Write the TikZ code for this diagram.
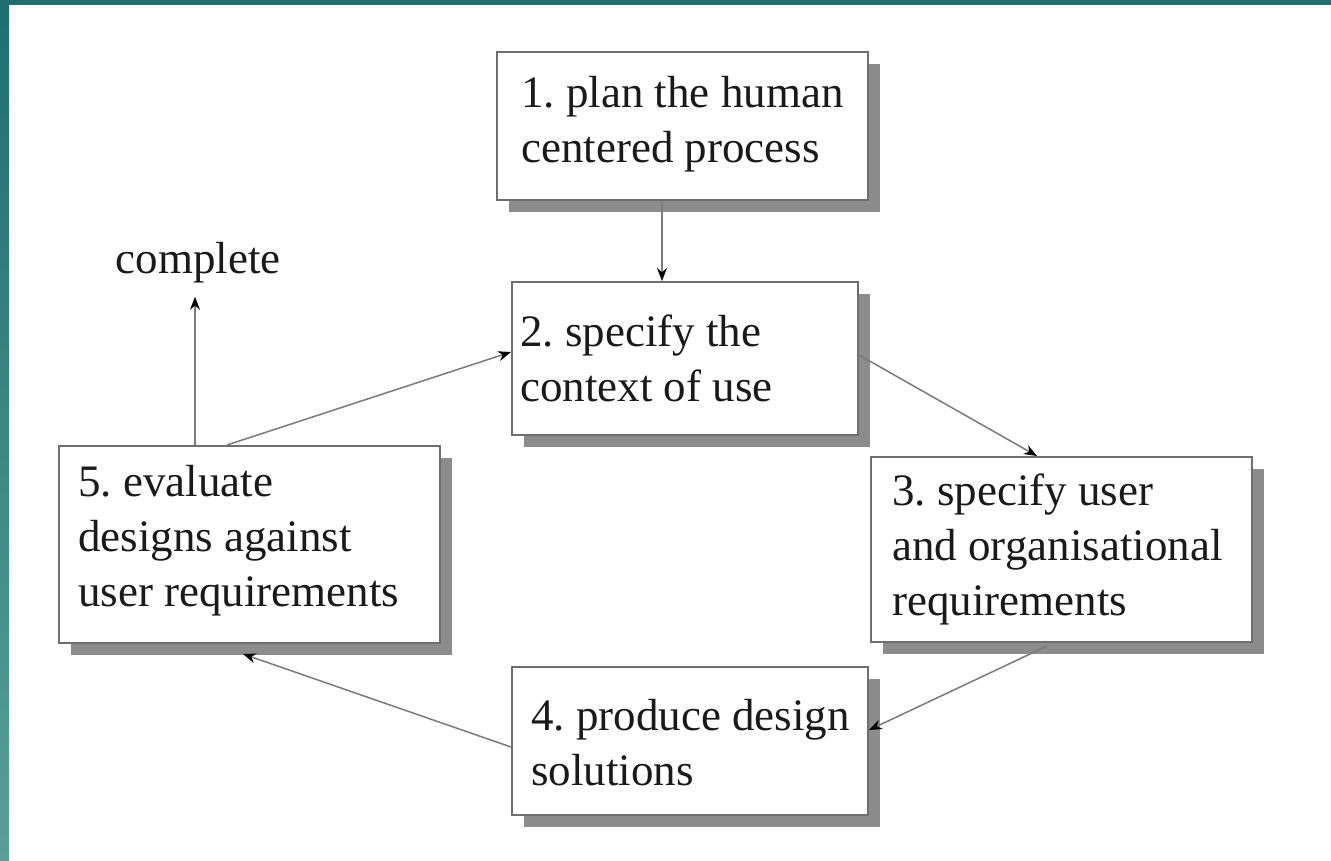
\documentclass[tikz,border=0pt]{standalone}
\usepackage{fontspec}
\setmainfont{Liberation Serif}
\usetikzlibrary{arrows.meta,shadows,calc}
\definecolor{tealtop}{HTML}{206E70}
\definecolor{tealbot}{HTML}{5A9E98}
\definecolor{boxline}{HTML}{6E6E6E}
\definecolor{shadowgray}{HTML}{8C8C8C}
\definecolor{linkgray}{HTML}{7A7A7A}
\definecolor{ink}{HTML}{1A1A1A}
\frenchspacing
\tikzset{
  stepbox/.style={draw=boxline, line width=2pt, fill=white, inner sep=0pt,
    drop shadow={shadow xshift=12pt, shadow yshift=-12pt, fill=shadowgray, opacity=1}},
  boxtext/.style={anchor=west, align=left, inner sep=0pt, text=ink,
    font=\fontsize{45}{55}\selectfont},
  arr/.style={draw=linkgray, line width=1.5pt,
    -{Stealth[length=13pt,width=10pt,color=black,fill=black]}}
}
\begin{document}
\begin{tikzpicture}[x=1pt,y=-1pt]
\useasboundingbox (0,0) rectangle (1331,861);
\fill[white] (0,0) rectangle (1331,861);
\fill[tealtop] (0,0) rectangle (1331,5);
\shade[top color=tealtop, bottom color=tealbot] (0,0) rectangle (9,861);

% boxes
\node[stepbox, minimum width=371pt, minimum height=148pt] (b1) at (682.5,126) {};
\node[stepbox, minimum width=346pt, minimum height=153pt] (b2) at (685,358.5) {};
\node[stepbox, minimum width=381pt, minimum height=185pt] (b3) at (1061.5,549.5) {};
\node[stepbox, minimum width=356pt, minimum height=148pt] (b4) at (690,741) {};
\node[stepbox, minimum width=381pt, minimum height=197pt] (b5) at (249.5,544.5) {};

% texts
\node[boxtext] (t1) at ([xshift=25pt,yshift=2pt]b1.west) {1. plan the human\\centered process};
\node[boxtext] (t2) at ([xshift=9pt]b2.west) {2. specify the\\context of use};
\node[boxtext] (t3) at ([xshift=22pt]b3.west) {3. specify user\\and organisational\\requirements};
\node[boxtext] (t4) at ([xshift=20pt,yshift=-2pt]b4.west) {4. produce design\\solutions};
\node[boxtext] (t5) at ([xshift=20pt,yshift=4pt]b5.west) {5. evaluate\\designs against\\user requirements};
\node[boxtext, anchor=base] (cmp) at (198,273) {complete};

% connectors
\draw[arr] ([xshift=-20.5pt]b1.south) -- ([xshift=-20.5pt]b1.south |- b2.north);
\draw[arr] ([xshift=-22.5pt]b5.north) -- ([yshift=6.5pt]b2.west);
\draw[arr] ([yshift=3.5pt]b2.east) -- ([xshift=-24.5pt]b3.north);
\draw[arr] ([xshift=-14.5pt,yshift=-3pt]b3.south) -- ([yshift=11pt]b4.east);
\draw[arr] ([yshift=-6pt]b4.west) -- ([xshift=-6.5pt,yshift=-10pt]b5.south);
\draw[arr, shorten >=14pt] ([xshift=-54.5pt]b5.north) -- ([xshift=-54.5pt]b5.north |- cmp.south);
\end{tikzpicture}
\end{document}
